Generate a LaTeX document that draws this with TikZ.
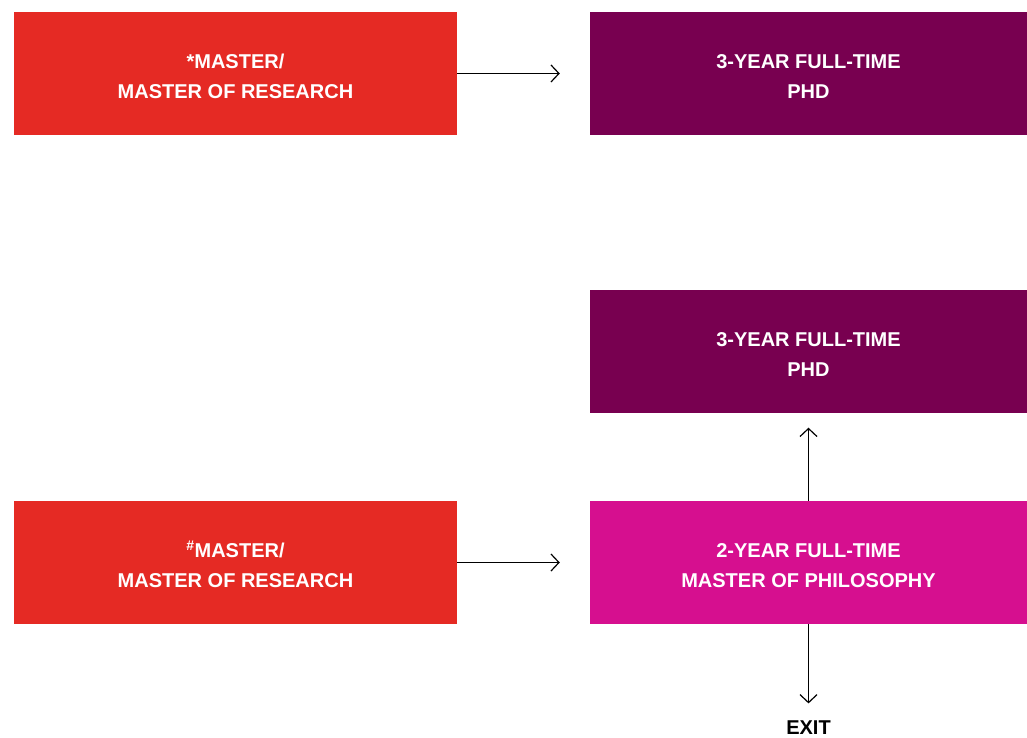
\documentclass[tikz,border=0pt]{standalone}
\usepackage{fontspec}
\setmainfont{Liberation Sans}
\usetikzlibrary{arrows.meta}
\definecolor{mred}{HTML}{E52A24}
\definecolor{phdpurple}{HTML}{780050}
\definecolor{mphilpink}{HTML}{D60F8F}
\tikzset{
  box/.style = {minimum width=443pt,minimum height=123pt,inner sep=0pt,text height=50.5pt,
    text=white,align=center,font=\fontsize{20}{30}\selectfont\bfseries},
  >={Straight Barb[length=8pt,width=17pt,line width=1.2pt]}
}

\begin{document}
\begin{tikzpicture}[x=1pt,y=-1pt]
  \useasboundingbox (0,0) rectangle (1027,738);
  \node[box,fill=mred]       (m1) at (235.5,73.5) {*MASTER/\\MASTER OF RESEARCH};
  \node[box,fill=phdpurple,minimum width=437pt] (p1) at (808.5,73.5) {3-YEAR FULL-TIME\\PHD};
  \node[box,fill=phdpurple,minimum width=437pt] (p2) at (808.5,351) {3-YEAR FULL-TIME\\PHD};
  \node[box,fill=mred]       (m2) at (235.5,562.5) {\textsuperscript{\#}MASTER/\\MASTER OF RESEARCH};
  \node[box,fill=mphilpink,minimum width=437pt] (ph) at (808.5,562.5) {2-YEAR FULL-TIME\\MASTER OF PHILOSOPHY};
  \node[inner sep=0pt,font=\fontsize{20}{22}\selectfont\bfseries] (exit) at (808.5,727.5) {EXIT};
  \draw[->,shorten >=30pt] (m1) -- (p1);
  \draw[->,shorten >=30pt] (m2) -- (ph);
  \draw[->,shorten >=15pt] (ph) -- (p2);
  \draw[->,shorten >=17pt] (ph) -- (exit);
\end{tikzpicture}
\end{document}
